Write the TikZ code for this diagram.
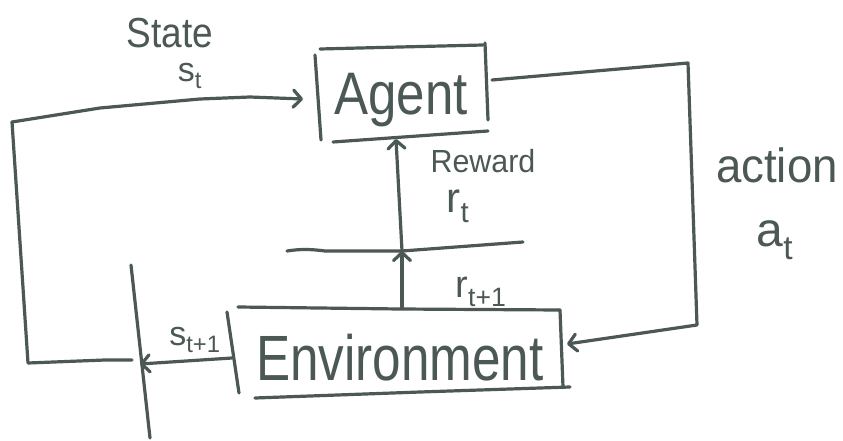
\documentclass[tikz,border=0pt]{standalone}
\usepackage{fontspec}
\setmainfont{Liberation Sans}
\usetikzlibrary{arrows.meta}
\definecolor{ink}{HTML}{4B5856}
\begin{document}
\begin{tikzpicture}[x=1pt,y=-1pt,
  pen/.style={draw=ink,line width=3.2pt,line cap=round,line join=round},
  tip/.style={-{Straight Barb[length=8pt,width=17pt,line cap=round,line join=round]}},
  lbl/.style={text=ink,inner sep=0pt,anchor=base},
  big/.style={lbl,font=\fontsize{60}{60}\selectfont},
  mid/.style={lbl,font=\fontsize{36}{36}\selectfont}]
\useasboundingbox (0,0) rectangle (843,441);

% Agent box, drawn as four loose strokes
\node[big,xscale=0.85] (agent) at (401,115) {Agent};
\draw[pen] (320,49) -- (400,47) -- (483,45);
\draw[pen] (315,55) -- (321,140);
\draw[pen] (485,43) -- (488,120);
\draw[pen] (333,142) -- (488,131);
\coordinate (agentL) at (303,99);
\coordinate (agentR) at (492,80);
\coordinate (agentB) at (396,139);

% Environment box
\node[big,font=\fontsize{64}{64}\selectfont,xscale=0.8] (env) at (400,380) {Environment};
\draw[pen] (238,307) -- (400,309) -- (560,310);
\draw[pen] (227,312) -- (239,393);
\draw[pen] (560,310) -- (563,387);
\draw[pen] (255,398) -- (420,392) -- (570,387);
\coordinate (envT) at (402,308);
\coordinate (envL) at (232,358);
\coordinate (envR) at (567,344);

% time step boundary lines
\coordinate (hL) at (287,251);
\coordinate (hX) at (402,251);
\coordinate (hR) at (523,242);
\draw[pen] (hL) .. controls (300,249) and (310,249) .. (325,251) -- (hX) -- (hR);
\coordinate (vT) at (131,265);
\coordinate (vX) at (140,364);
\coordinate (vB) at (150,438);
\draw[pen] (vT) -- (vB);

% reward path
\draw[pen,tip] (envT) -- (hX);
\draw[pen,tip] (hX) -- (agentB);

% state path
\draw[pen,tip] (envL) -- (vX);
\draw[pen] (132,360) -- (105,360) -- (28,363) -- (12,122);
\draw[pen,tip] (12,122) -- (100,108) -- (200,99) -- (250,97) -- (agentL);

% action path
\draw[pen,tip] (agentR) -- (688,63) -- (697,325) -- (envR);

% labels
\node[lbl,font=\fontsize{42}{42}\selectfont,xscale=0.88] (stateL) at (170,48) {State};
\node[lbl,font=\fontsize{34}{34}\selectfont] (stL) at (190,82) {s\textsubscript{t}};
\node[lbl,font=\fontsize{32}{32}\selectfont,xscale=0.95] (rewL) at (483,172) {Reward};
\node[lbl,font=\fontsize{42}{42}\selectfont] (rtL) at (458,212) {r\textsubscript{t}};
\node[lbl,font=\fontsize{48}{48}\selectfont,xscale=0.95] (actL) at (777,182) {action};
\node[lbl,font=\fontsize{48}{48}\selectfont] (atL) at (775,246) {a\textsubscript{t}};
\node[lbl,font=\fontsize{38}{38}\selectfont] (rt1L) at (481,297) {r\textsubscript{t+1}};
\node[lbl,font=\fontsize{34}{34}\selectfont] (st1L) at (195,345) {s\textsubscript{t+1}};
\end{tikzpicture}
\end{document}
